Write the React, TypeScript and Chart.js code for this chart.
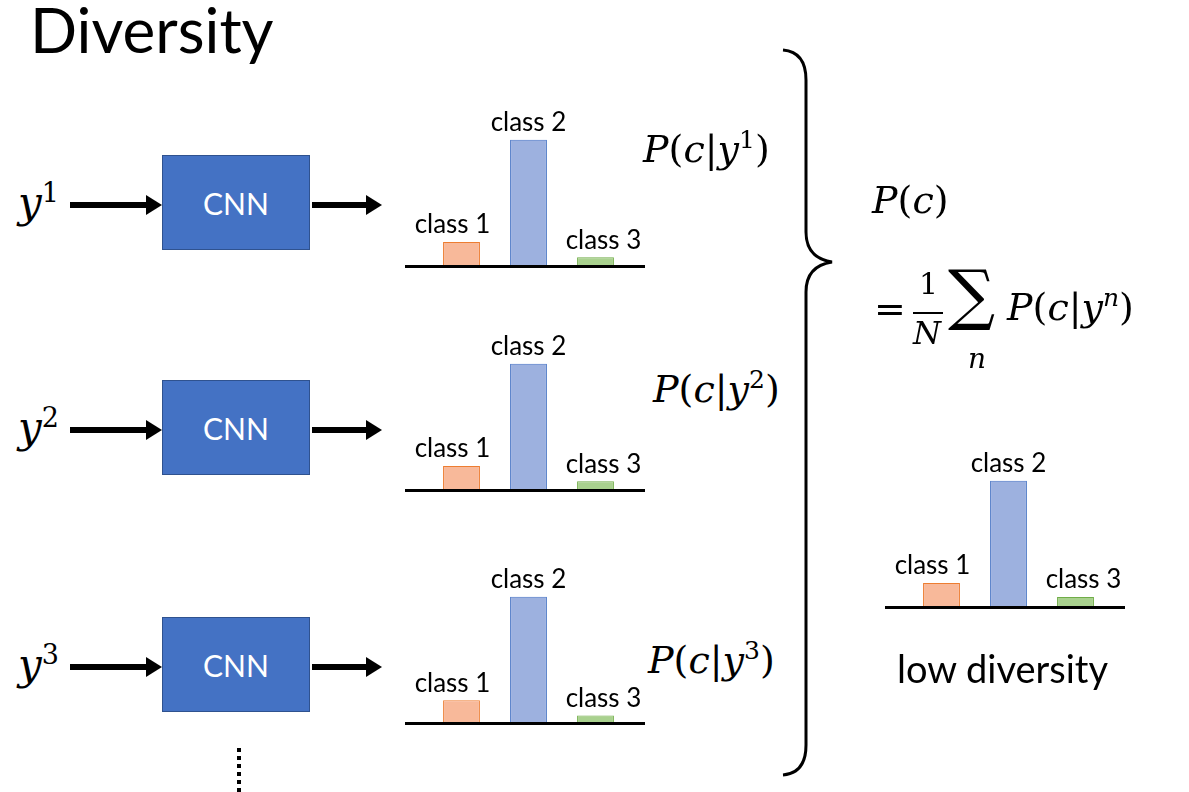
import { useEffect, useRef } from "react";
import Chart from "chart.js/auto";

const categories = ["class 1", "class 2", "class 3"];
const row1Values = [0.19, 1.0, 0.07];
const row2Values = [0.19, 1.0, 0.07];
const row3Values = [0.18, 1.0, 0.06];
const averageValues = [0.19, 1.0, 0.08];

const fillColors = ["#F8B99A", "#9DB1DF", "#A9D18E"];
const borderColors = ["#ED7D31", "#4472C4", "#70AD47"];

const labelPlugin = {
  id: "barLabels",
  afterDraw(chart: any) {
    const ctx = chart.ctx;
    const meta = chart.getDatasetMeta(0);
    ctx.save();
    ctx.fillStyle = "#000";
    ctx.fillRect(0, chart.chartArea.bottom - 1, chart.width, 3);
    ctx.font = "26px Lato";
    ctx.textAlign = "center";
    ctx.textBaseline = "bottom";
    meta.data.forEach((bar: any, i: number) => {
      ctx.fillText(chart.data.labels[i], bar.x + (i === 0 ? -9 : i === 2 ? 8 : 0), bar.y - 4);
    });
    ctx.restore();
  },
};

const MiniBar = ({ left, baseline, values }: { left: number; baseline: number; values: number[] }) => {
  const ref = useRef<HTMLCanvasElement>(null);
  useEffect(() => {
    if (!ref.current) return;
    const chart = new Chart(ref.current, {
      type: "bar",
      data: {
        labels: categories,
        datasets: [
          {
            data: values,
            backgroundColor: fillColors,
            borderColor: borderColors,
            borderWidth: 1,
            barPercentage: 0.55,
            categoryPercentage: 1,
          },
        ],
      },
      options: {
        animation: false,
        responsive: true,
        maintainAspectRatio: false,
        layout: { padding: { left: 23, right: 16, top: 0, bottom: 3 } },
        plugins: { legend: { display: false }, tooltip: { enabled: false } },
        scales: {
          x: { display: false },
          y: { display: false, min: 0, max: 1.33 },
        },
      },
      plugins: [labelPlugin],
    });
    return () => chart.destroy();
  }, []);
  return (
    <div style={{ position: "absolute", left, top: baseline - 168, width: 240, height: 171 }}>
      <canvas ref={ref} />
    </div>
  );
};

const math = { fontFamily: "'DejaVu Serif', serif", fontSize: 38, position: "absolute" as const, whiteSpace: "nowrap" as const };
const it = { fontStyle: "italic" };

const CondP = ({ n }: { n: string }) => (
  <span>
    <span style={it}>P</span>(<span style={it}>c</span>|<span style={it}>y</span>
    <sup style={{ fontSize: 25, ...(n === "n" ? it : {}) }}>{n}</sup>)
  </span>
);

const Row = ({ top, n, baseline, values, pLeft, pTop }: any) => (
  <>
    <div style={{ ...math, left: 18, top: top + 22, fontSize: 42 }}>
      <span style={it}>y</span>
      <sup style={{ fontSize: 27 }}>{n}</sup>
    </div>
    <div style={{ position: "absolute", left: 70, top: top + 47, width: 78, height: 6, background: "#000" }} />
    <div style={{ position: "absolute", left: 146, top: top + 40, width: 0, height: 0, borderTop: "10px solid transparent", borderBottom: "10px solid transparent", borderLeft: "16px solid #000" }} />
    <div style={{ position: "absolute", left: 162, top, width: 148, height: 95, background: "#4472C4", border: "1px solid #2F528F", boxSizing: "border-box", color: "#fff", fontFamily: "Lato", fontSize: 30, display: "flex", alignItems: "center", justifyContent: "center" }}>CNN</div>
    <div style={{ position: "absolute", left: 312, top: top + 47, width: 56, height: 6, background: "#000" }} />
    <div style={{ position: "absolute", left: 366, top: top + 40, width: 0, height: 0, borderTop: "10px solid transparent", borderBottom: "10px solid transparent", borderLeft: "16px solid #000" }} />
    <MiniBar left={405} baseline={baseline} values={values} />
    <div style={{ ...math, left: pLeft, top: pTop }}>
      <CondP n={n} />
    </div>
  </>
);

const App = () => (
  <div style={{ position: "absolute", left: 0, top: 0, width: 1189, height: 792, background: "#fff", overflow: "hidden" }}>
    <div style={{ position: "absolute", left: 30, top: -8, fontFamily: "Lato", fontSize: 62 }}>Diversity</div>
    <Row top={155} n="1" baseline={266} values={row1Values} pLeft={643} pTop={125} />
    <Row top={380} n="2" baseline={490} values={row2Values} pLeft={653} pTop={365} />
    <Row top={617} n="3" baseline={723} values={row3Values} pLeft={648} pTop={636} />
    <div style={{ position: "absolute", left: 237, top: 748, width: 4, height: 44, backgroundImage: "linear-gradient(#000 50%, transparent 50%)", backgroundSize: "4px 8px" }} />
    <svg style={{ position: "absolute", left: 0, top: 0 }} width={1189} height={792}>
      <path d="M783 50 Q806 52 806 80 L806 232 Q806 258 832 262 Q806 266 806 292 L806 745 Q806 773 783 775" fill="none" stroke="#000" strokeWidth={3} />
    </svg>
    <div style={{ ...math, left: 872, top: 178 }}>
      <span style={it}>P</span>(<span style={it}>c</span>)
    </div>
    <div style={{ ...math, left: 874, top: 287 }}>=</div>
    <div style={{ ...math, left: 919, top: 266, fontSize: 30 }}>1</div>
    <div style={{ position: "absolute", left: 913, top: 312, width: 30, height: 2, background: "#000" }} />
    <div style={{ ...math, left: 913, top: 314, fontSize: 32 }}><span style={it}>N</span></div>
    <div style={{ ...math, left: 948, top: 256, fontSize: 66 }}>∑</div>
    <div style={{ ...math, left: 968, top: 342, fontSize: 28 }}><span style={it}>n</span></div>
    <div style={{ ...math, left: 1007, top: 283 }}>
      <CondP n="n" />
    </div>
    <MiniBar left={885} baseline={607} values={averageValues} />
    <div style={{ position: "absolute", left: 897, top: 645, fontFamily: "Lato", fontSize: 38 }}>low diversity</div>
  </div>
);

export default App;
